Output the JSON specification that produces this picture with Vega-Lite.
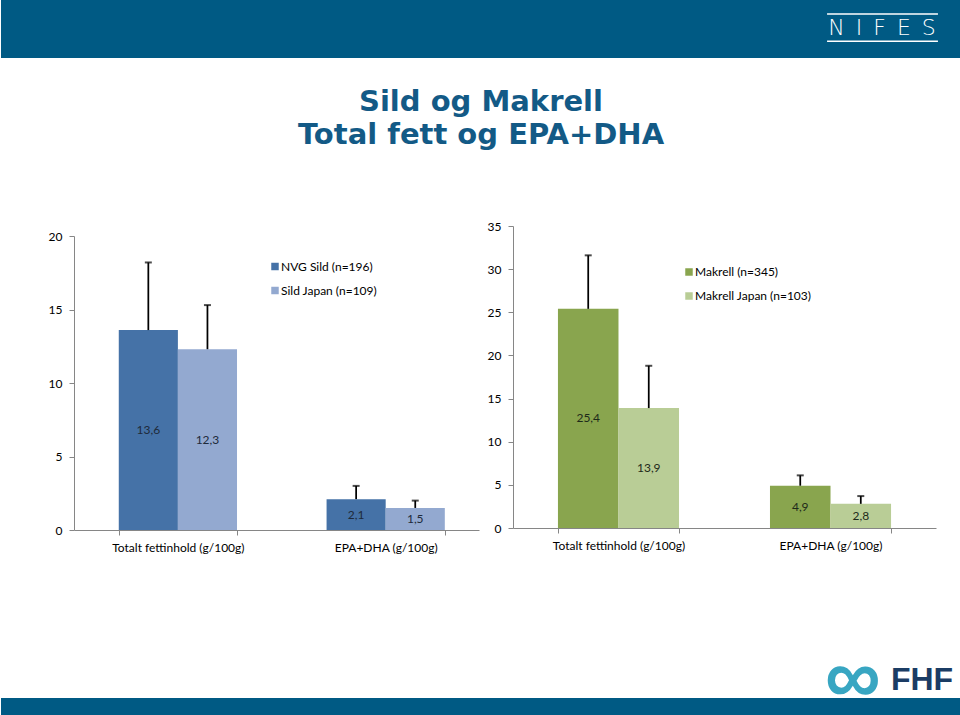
{
  "$schema": "https://vega.github.io/schema/vega-lite/v6.json",
  "padding": 0,
  "background": "white",
  "columns": 1,
  "spacing": 70,
  "config": {
    "view": {"stroke": null},
    "font": "Lato",
    "locale": {"number": {"decimal": ",", "thousands": "\u00a0", "grouping": [3], "currency": ["", " kr"]}},
    "axis": {"domainColor": "#868686", "tickColor": "#868686", "labelFont": "Lato", "labelFontSize": 12, "labelColor": "#000000", "grid": false, "tickSize": 5, "labelPadding": 7, "domainWidth": 1, "tickWidth": 1}
  },
  "concat": [
    {
      "width": 887,
      "height": 58,
      "view": {"stroke": null},
      "data": {"values": [{"logo": "N\u2002I\u2002F\u2002E\u2002S"}]},
      "title": {
        "text": ["Sild og Makrell", "Total fett og EPA+DHA"],
        "orient": "bottom",
        "anchor": "middle",
        "offset": 30,
        "dx": -36.5,
        "font": "DejaVu Sans",
        "fontWeight": "bold",
        "fontSize": 29,
        "lineHeight": 33,
        "color": "#135a86"
      },
      "layer": [
        {
          "mark": {"type": "rect", "color": "#005a84"},
          "encoding": {
            "x": {"datum": -0.0823, "type": "quantitative", "scale": {"domain": [0, 1]}, "axis": null},
            "x2": {"datum": 1},
            "y": {"datum": 0, "type": "quantitative", "scale": {"domain": [0, 1]}, "axis": null},
            "y2": {"datum": 1}
          }
        },
        {
          "mark": {"type": "text", "color": "white", "font": "DejaVu Sans", "fontWeight": 200, "fontSize": 22, "baseline": "middle", "align": "center"},
          "encoding": {
            "text": {"field": "logo"},
            "x": {"datum": 0.911, "type": "quantitative"},
            "y": {"datum": 0.517, "type": "quantitative"}
          }
        },
        {
          "mark": {"type": "rule", "color": "white", "strokeWidth": 1.5},
          "encoding": {
            "x": {"datum": 0.849, "type": "quantitative"},
            "x2": {"datum": 0.974},
            "y": {"datum": 0.759, "type": "quantitative"}
          }
        },
        {
          "mark": {"type": "rule", "color": "white", "strokeWidth": 1.5},
          "encoding": {
            "x": {"datum": 0.849, "type": "quantitative"},
            "x2": {"datum": 0.974},
            "y": {"datum": 0.29, "type": "quantitative"}
          }
        }
      ]
    },
    {
      "columns": 2,
      "spacing": 4,
      "resolve": {"scale": {"color": "independent", "xOffset": "independent"}, "legend": {"color": "independent"}},
      "concat": [
        {
          "width": 405,
          "height": 304,
          "data": {"values": [
            {"group": "Totalt fettinhold (g/100g)", "series": "NVG Sild (n=196)", "value": 13.6, "upper": 18.2},
            {"group": "Totalt fettinhold (g/100g)", "series": "Sild Japan (n=109)", "value": 12.3, "upper": 15.3},
            {"group": "EPA+DHA (g/100g)", "series": "NVG Sild (n=196)", "value": 2.1, "upper": 3.0},
            {"group": "EPA+DHA (g/100g)", "series": "Sild Japan (n=109)", "value": 1.5, "upper": 2.0}
          ]},
          "encoding": {
            "x": {"field": "group", "type": "nominal", "sort": null,
              "scale": {"paddingInner": 0.431, "paddingOuter": 0.19, "align": 0.567},
              "axis": {"title": null, "labelAngle": 0, "tickBand": "extent"}},
            "xOffset": {"field": "series", "type": "nominal", "sort": null}
          },
          "resolve": {"scale": {"y": "independent"}},
          "layer": [
            {
              "mark": {"type": "bar"},
              "encoding": {
                "y": {"field": "value", "type": "quantitative", "scale": {"domain": [0, 20], "nice": false, "range": [304, 10]},
                  "axis": {"title": null, "values": [0, 5, 10, 15, 20], "minExtent": 73}},
                "color": {"field": "series", "type": "nominal", "sort": null,
                  "scale": {"range": ["#4572a7", "#93a9d0"]},
                  "legend": {"orient": "none", "legendX": 195, "legendY": 34.5, "title": null, "symbolType": "square", "symbolSize": 56, "symbolStrokeWidth": 0, "labelFont": "Lato", "labelFontSize": 12, "labelColor": "#000000", "rowPadding": 12, "padding": 0, "labelOffset": 0}}
              }
            },
            {
              "mark": {"type": "rule", "color": "#000000", "strokeWidth": 1.75},
              "encoding": {
                "y": {"field": "value", "type": "quantitative", "scale": {"domain": [0, 20], "nice": false, "range": [304, 10]}, "axis": null},
                "y2": {"field": "upper"}
              }
            },
            {
              "mark": {"type": "tick", "color": "#000000", "size": 7, "thickness": 2, "orient": "horizontal"},
              "encoding": {
                "y": {"field": "upper", "type": "quantitative", "scale": {"domain": [0, 20], "nice": false, "range": [304, 10]}, "axis": null}
              }
            },
            {
              "mark": {"type": "text", "font": "Lato", "fontSize": 12, "color": "#1e2a3a", "baseline": "middle"},
              "encoding": {
                "y": {"field": "value", "type": "quantitative", "scale": {"domain": [0, 40], "nice": false, "range": [304, 10]}, "axis": null},
                "text": {"field": "value", "type": "quantitative", "format": ".1f"}
              }
            }
          ]
        },
        {
          "width": 423,
          "height": 302,
          "data": {"values": [
            {"group": "Totalt fettinhold (g/100g)", "series": "Makrell (n=345)", "value": 25.4, "upper": 31.6},
            {"group": "Totalt fettinhold (g/100g)", "series": "Makrell Japan (n=103)", "value": 13.9, "upper": 18.8},
            {"group": "EPA+DHA (g/100g)", "series": "Makrell (n=345)", "value": 4.9, "upper": 6.1},
            {"group": "EPA+DHA (g/100g)", "series": "Makrell Japan (n=103)", "value": 2.8, "upper": 3.7}
          ]},
          "encoding": {
            "x": {"field": "group", "type": "nominal", "sort": null,
              "scale": {"paddingInner": 0.429, "paddingOuter": 0.212, "align": 0.5},
              "axis": {"title": null, "labelAngle": 0, "tickBand": "extent"}},
            "xOffset": {"field": "series", "type": "nominal", "sort": null}
          },
          "resolve": {"scale": {"y": "independent"}},
          "layer": [
            {
              "mark": {"type": "bar"},
              "encoding": {
                "y": {"field": "value", "type": "quantitative", "scale": {"domain": [0, 35], "nice": false},
                  "axis": {"title": null, "values": [0, 5, 10, 15, 20, 25, 30, 35], "minExtent": 30}},
                "color": {"field": "series", "type": "nominal", "sort": null,
                  "scale": {"range": ["#89a54e", "#b9cd96"]},
                  "legend": {"orient": "none", "legendX": 170, "legendY": 40, "title": null, "symbolType": "square", "symbolSize": 56, "symbolStrokeWidth": 0, "labelFont": "Lato", "labelFontSize": 12, "labelColor": "#000000", "rowPadding": 12, "padding": 0, "labelOffset": 0}}
              }
            },
            {
              "mark": {"type": "rule", "color": "#000000", "strokeWidth": 1.75},
              "encoding": {
                "y": {"field": "value", "type": "quantitative", "scale": {"domain": [0, 35], "nice": false}, "axis": null},
                "y2": {"field": "upper"}
              }
            },
            {
              "mark": {"type": "tick", "color": "#000000", "size": 7, "thickness": 2, "orient": "horizontal"},
              "encoding": {
                "y": {"field": "upper", "type": "quantitative", "scale": {"domain": [0, 35], "nice": false}, "axis": null}
              }
            },
            {
              "mark": {"type": "text", "font": "Lato", "fontSize": 12, "color": "#1e2a1a", "baseline": "middle"},
              "encoding": {
                "y": {"field": "value", "type": "quantitative", "scale": {"domain": [0, 70], "nice": false}, "axis": null},
                "text": {"field": "value", "type": "quantitative", "format": ".1f"}
              }
            }
          ]
        }
      ]
    },
    {
      "width": 887,
      "height": 92,
      "view": {"stroke": null},
      "data": {"values": [{"brand": "FHF", "symbol": "\u221e"}]},
      "layer": [
        {
          "mark": {"type": "rect", "color": "#005a84"},
          "encoding": {
            "x": {"datum": -0.0823, "type": "quantitative", "scale": {"domain": [0, 1]}, "axis": null},
            "x2": {"datum": 1},
            "y": {"datum": 0, "type": "quantitative", "scale": {"domain": [0, 1]}, "axis": null},
            "y2": {"datum": 0.185}
          }
        },
        {
          "mark": {"type": "text", "font": "Liberation Sans", "fontWeight": "bold", "fontSize": 32, "color": "#1b3c64", "baseline": "middle"},
          "encoding": {
            "text": {"field": "brand"},
            "x": {"datum": 0.956, "type": "quantitative"},
            "y": {"datum": 0.38, "type": "quantitative"}
          }
        },
        {
          "mark": {"type": "text", "font": "Liberation Sans", "fontWeight": "bold", "fontSize": 78, "color": "#38a6c2", "baseline": "middle"},
          "encoding": {
            "text": {"field": "symbol"},
            "x": {"datum": 0.878, "type": "quantitative"},
            "y": {"datum": 0.38, "type": "quantitative"}
          }
        }
      ]
    }
  ]
}
